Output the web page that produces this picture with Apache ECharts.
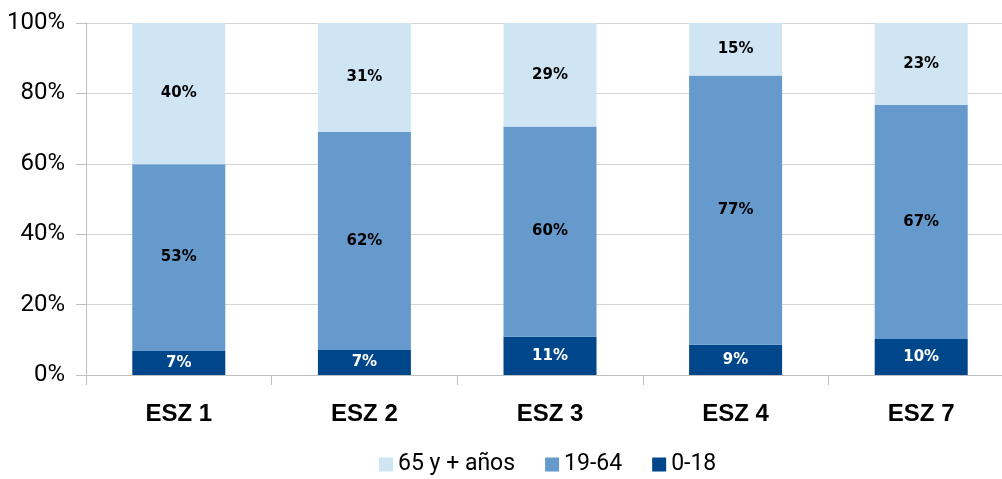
<!DOCTYPE html>
<html>
<head>
<meta charset="utf-8">
<script src="https://cdn.jsdelivr.net/npm/echarts@6/dist/echarts.min.js"></script>
<style>
html,body{margin:0;padding:0;background:#fff;}
#chart{width:1002px;height:479px;}
</style>
</head>
<body>
<div id="chart"></div>
<script>
const categories = ['ESZ 1', 'ESZ 2', 'ESZ 3', 'ESZ 4', 'ESZ 7'];
const age0to18 = [6.8, 7.1, 10.9, 8.6, 10.2];
const age19to64 = [53.1, 61.9, 59.7, 76.5, 66.6];
const age65plus = [40.1, 31.0, 29.4, 14.9, 23.2];
const yTicks = [0, 20, 40, 60, 80, 100];

const labelFont = 'DejaVu Sans';
const axisFont = 'Roboto';
const catFont = "'Liberation Sans', Arial";

function pctLabel(p) { return Math.round(p.value) + '%'; }

const chart = echarts.init(document.getElementById('chart'), null, {renderer: 'canvas'});
chart.setOption({
  animation: false,
  backgroundColor: '#ffffff',
  grid: {left: 86, width: 928, top: 23, height: 352, containLabel: false, outerBoundsMode: 'none'},
  legend: {
    data: ['65 y + años', '19-64', '0-18'],
    left: 374,
    top: 448,
    itemWidth: 14,
    itemHeight: 14,
    itemGap: 30,
    icon: 'rect',
    textStyle: {fontFamily: axisFont, fontSize: 23, color: '#000'}
  },
  xAxis: {
    type: 'category',
    data: categories,
    axisLine: {lineStyle: {color: '#BFBFBF', width: 1}},
    axisTick: {show: true, length: 10, lineStyle: {color: '#BFBFBF'}},
    axisLabel: {margin: 27, fontFamily: catFont, fontWeight: 'bold', fontSize: 24, color: '#000'},
    splitLine: {show: false}
  },
  yAxis: {
    type: 'value',
    min: yTicks[0],
    max: yTicks[yTicks.length - 1],
    interval: yTicks[1] - yTicks[0],
    axisLine: {show: true, lineStyle: {color: '#BFBFBF', width: 1}},
    axisTick: {show: true, length: 10, lineStyle: {color: '#BFBFBF'}},
    axisLabel: {margin: 21, fontFamily: axisFont, fontSize: 24, color: '#000', formatter: v => v + '%'},
    splitLine: {show: true, lineStyle: {color: '#D4D4D4', width: 1}}
  },
  series: [
    {
      name: '0-18', type: 'bar', stack: 'total', data: age0to18, barWidth: 93,
      itemStyle: {color: '#00468A'},
      label: {show: true, position: 'inside', formatter: pctLabel, fontFamily: labelFont, fontWeight: 'bold', fontSize: 15, color: '#fff'}
    },
    {
      name: '19-64', type: 'bar', stack: 'total', data: age19to64, barWidth: 93,
      itemStyle: {color: '#6699CC'},
      label: {show: true, position: 'inside', formatter: pctLabel, fontFamily: labelFont, fontWeight: 'bold', fontSize: 15, color: '#000'}
    },
    {
      name: '65 y + años', type: 'bar', stack: 'total', data: age65plus, barWidth: 93,
      itemStyle: {color: '#CFE5F3'},
      label: {show: true, position: 'inside', formatter: pctLabel, fontFamily: labelFont, fontWeight: 'bold', fontSize: 15, color: '#000'}
    }
  ]
});
</script>
</body>
</html>
